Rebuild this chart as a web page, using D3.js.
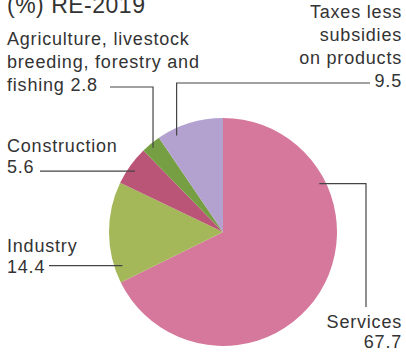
<!DOCTYPE html>
<html>
<head>
<meta charset="utf-8">
<script src="https://cdn.jsdelivr.net/npm/d3@7"></script>
<style>
  body { margin: 0; background: #fff; }
  svg text { font-family: "Liberation Sans", Arial, sans-serif; fill: #333; }
</style>
</head>
<body>
<div id="chart"></div>
<script>
// data (clockwise from 12 o'clock)
var categories = ["Services", "Industry", "Construction", "Agriculture", "Taxes"];
var values = [67.7, 14.4, 5.6, 2.8, 9.5];
var labelLines = [
  ["Services", "67.7"],
  ["Industry", "14.4"],
  ["Construction", "5.6"],
  ["Agriculture, livestock", "breeding, forestry and", "fishing 2.8"],
  ["Taxes less", "subsidies", "on products", "9.5"]
];
var colors = ["#d5789c", "#a4b859", "#bb5577", "#769f43", "#b3a1cf"];

var width = 406, height = 352;
var cx = 223, cy = 232, radius = 114;

var svg = d3.select("#chart").append("svg")
  .attr("width", width)
  .attr("height", height);

// title (partly cut at top)
svg.append("text")
  .attr("x", 7).attr("y", 13)
  .attr("font-size", "23px")
  .attr("letter-spacing", "0.5px")
  .text("(%) RE-2019");

var pie = d3.pie().sort(null).value(function(d){ return d; });
var arc = d3.arc().innerRadius(0).outerRadius(radius);
var arcs = pie(values);

var g = svg.append("g").attr("transform", "translate(" + cx + "," + cy + ")");

g.selectAll("path")
  .data(arcs)
  .enter()
  .append("path")
    .attr("d", arc)
    .style("fill", function(d, i){ return colors[i]; })
    .style("stroke", "none");

// label layout: where the leader touches the slice (fraction through the slice, radius factor),
// the leader bends, and where the text block sits
var layout = [
  {t: 0.26, rf: 0.945, path: [["h", 366], ["v", 307]], tx: 402, ty: 328, anchor: "end", lh: 20},
  {t: 0.15, rf: 0.93, path: [["h", 49]], tx: 7, ty: 252, anchor: "start", lh: 21},
  {t: 0.45, rf: 0.94, path: [["h", 40]], tx: 7, ty: 152, anchor: "start", lh: 21},
  {t: 0.45, rf: 0.96, path: [["v", 87], ["h", 110]], tx: 7, ty: 45, anchor: "start", lh: 23},
  {t: 0.25, rf: 0.94, path: [["v", 83], ["h", 370]], tx: 402, ty: 18, anchor: "end", lh: 23}
];

arcs.forEach(function(d, i){
  var L = layout[i];
  var a = d.startAngle + (d.endAngle - d.startAngle) * L.t;
  var r = radius * L.rf;
  var x = cx + r * Math.sin(a), y = cy - r * Math.cos(a);
  var pts = [[x, y]];
  L.path.forEach(function(p){
    if (p[0] === "h") x = p[1]; else y = p[1];
    pts.push([x, y]);
  });
  svg.append("path")
    .attr("d", d3.line()(pts))
    .style("fill", "none")
    .style("stroke", "#444")
    .style("stroke-width", 1.2);

  var txt = svg.append("text")
    .attr("x", L.tx).attr("y", L.ty)
    .attr("font-size", "18px")
    .attr("letter-spacing", "0.8px")
    .attr("text-anchor", L.anchor);
  labelLines[i].forEach(function(line, k){
    txt.append("tspan")
      .attr("x", L.tx)
      .attr("dy", k === 0 ? 0 : L.lh)
      .text(line);
  });
});
</script>
</body>
</html>
